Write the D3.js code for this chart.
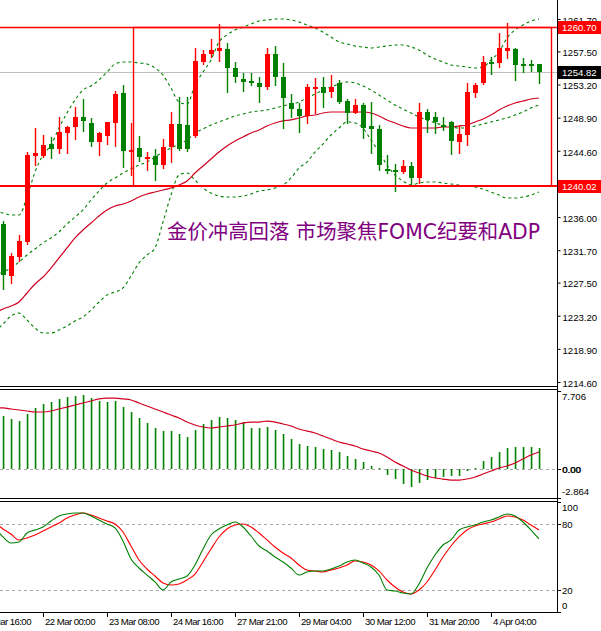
<!DOCTYPE html>
<html>
<head>
<meta charset="utf-8">
<script src="https://cdn.jsdelivr.net/npm/d3@7"></script>
<style>
  body { margin: 0; background: #fff; }
  svg { display: block; }
  text { font-family: "Liberation Sans", Arial, sans-serif; }
</style>
</head>
<body>
<div id="chart"></div>
<script>
// velas H4 del oro, barra 0 .. 67
const opens = [1235.10,1228.35,1230.82,1232.77,1243.92,1243.92,1245.48,1244.83,1246.91,1247.69,
  1248.99,1248.21,1245.74,1246.52,1248.21,1252.10,1244.57,1244.96,1243.53,1243.92,
  1242.76,1245.09,1248.08,1247.95,1246.52,1256.12,1257.16,1257.55,1257.81,1255.34,
  1253.91,1253.66,1253.40,1252.88,1257.16,1254.17,1250.80,1250.02,1249.12,1252.75,
  1252.88,1252.23,1253.40,1251.06,1249.50,1250.54,1247.82,1247.43,1242.24,1242.11,
  1241.85,1242.63,1241.07,1249.63,1248.99,1247.95,1248.34,1245.74,1246.65,1252.10,
  1253.40,1256.12,1255.99,1257.55,1257.81,1255.86,1255.86,1255.86];
const highs = [1235.49,1231.34,1233.67,1244.44,1247.56,1246.65,1246.39,1248.99,1247.82,1250.28,
  1251.32,1248.86,1247.04,1248.34,1252.36,1253.14,1248.21,1246.52,1244.44,1244.83,
  1246.13,1249.63,1251.58,1251.58,1257.94,1257.68,1259.11,1261.05,1258.59,1256.12,
  1254.69,1254.69,1254.17,1257.94,1258.20,1256.00,1251.97,1250.80,1253.27,1254.04,
  1254.17,1254.43,1253.78,1251.32,1251.32,1250.80,1250.93,1247.95,1244.05,1242.89,
  1243.40,1243.14,1250.80,1250.02,1249.63,1248.99,1248.47,1247.95,1253.40,1253.40,
  1256.90,1256.77,1259.88,1261.18,1257.94,1256.64,1256.38,1255.86];
const lows = [1226.67,1227.45,1230.30,1232.51,1242.76,1243.79,1243.66,1244.31,1244.31,1246.13,
  1247.17,1245.22,1244.05,1245.48,1245.22,1242.50,1241.46,1243.27,1242.11,1240.81,
  1242.37,1243.14,1244.70,1244.57,1246.39,1255.86,1256.77,1256.25,1252.23,1253.53,
  1252.36,1253.14,1250.93,1252.62,1253.14,1247.56,1248.99,1247.04,1248.21,1249.50,
  1250.28,1251.58,1250.80,1248.21,1249.50,1246.26,1244.31,1242.11,1241.72,1239.38,
  1241.72,1240.03,1240.42,1247.04,1246.91,1247.30,1244.18,1244.31,1245.35,1251.58,
  1253.27,1254.56,1255.47,1256.64,1253.78,1254.82,1254.95,1253.40];
const closes = [1228.48,1230.95,1232.90,1244.05,1244.31,1245.35,1244.83,1247.04,1247.69,1248.99,
  1248.47,1245.74,1246.91,1248.34,1251.97,1244.57,1244.70,1243.79,1243.79,1242.76,
  1245.09,1248.08,1244.83,1244.83,1256.25,1257.16,1257.68,1257.94,1255.34,1254.17,
  1253.53,1253.40,1252.88,1257.16,1254.17,1251.45,1250.02,1249.12,1252.88,1252.88,
  1252.10,1252.88,1250.93,1249.50,1250.54,1247.56,1247.43,1242.76,1242.11,1241.98,
  1242.63,1241.07,1249.63,1248.60,1248.34,1247.69,1245.87,1246.78,1252.23,1253.14,
  1256.12,1255.99,1257.94,1257.94,1255.73,1255.60,1255.60,1254.82];

// indicadores: empiezan una barra antes de la primera vela (barra -1 .. 67)
const lineStart = -1;
const bandUpper = [1236.92,1236.53,1236.27,1236.27,1238.60,1241.85,1244.05,1245.35,1247.56,1249.50,
  1251.19,1252.49,1253.01,1253.79,1254.82,1255.86,1256.12,1256.12,1255.99,1255.86,
  1255.34,1254.43,1252.75,1250.93,1250.67,1253.14,1254.82,1256.38,1258.72,1259.63,
  1260.27,1260.66,1261.05,1261.44,1261.57,1261.70,1261.70,1261.57,1261.31,1260.92,
  1260.53,1260.01,1259.37,1258.72,1258.46,1258.20,1258.07,1257.94,1258.07,1258.20,
  1258.33,1258.33,1258.07,1257.68,1257.03,1256.51,1256.12,1255.73,1255.60,1255.47,
  1255.34,1255.47,1256.38,1257.42,1259.24,1260.27,1260.92,1261.44,1261.70];
const bandInner = [1228.35,1228.87,1229.39,1230.17,1231.08,1231.86,1232.64,1233.29,1234.06,1235.10,
  1236.01,1236.92,1238.22,1239.38,1240.42,1241.07,1241.72,1242.24,1242.76,1243.14,
  1243.79,1244.44,1244.96,1245.48,1246.00,1246.91,1247.43,1247.95,1248.34,1248.73,
  1249.12,1249.37,1249.63,1249.76,1249.89,1250.15,1250.41,1250.67,1250.93,1251.45,
  1251.97,1252.49,1252.88,1253.27,1253.53,1253.40,1253.01,1252.49,1251.84,1251.19,
  1250.54,1250.02,1249.50,1248.99,1248.60,1248.21,1247.95,1247.69,1247.56,1247.56,
  1247.82,1248.08,1248.34,1248.60,1248.86,1249.24,1249.63,1250.15,1250.54];
const bandLower = [1221.09,1222.12,1223.16,1223.55,1222.65,1221.61,1220.96,1220.96,1221.35,1221.87,
  1222.52,1223.03,1223.94,1224.98,1225.89,1226.28,1226.80,1228.35,1230.04,1231.08,
  1231.99,1235.36,1238.86,1241.46,1241.72,1240.81,1239.77,1239.12,1238.73,1238.60,
  1238.60,1238.73,1239.00,1239.38,1239.51,1239.77,1240.16,1241.07,1242.37,1243.14,
  1244.44,1245.48,1246.65,1247.56,1248.34,1248.21,1247.56,1246.00,1244.44,1242.76,
  1241.46,1240.68,1240.16,1240.42,1240.55,1240.55,1240.42,1240.29,1240.16,1240.03,
  1239.90,1239.64,1239.25,1238.86,1238.47,1238.47,1238.60,1238.86,1239.25];
const movingAvg = [1223.55,1224.07,1224.46,1224.98,1226.15,1227.32,1228.22,1229.39,1230.69,1231.99,
  1233.29,1234.32,1235.23,1236.14,1236.92,1237.44,1237.70,1238.09,1238.60,1238.99,
  1239.25,1239.51,1239.77,1240.16,1240.68,1241.72,1242.63,1243.53,1244.44,1245.22,
  1245.87,1246.39,1246.91,1247.30,1247.82,1248.21,1248.47,1248.60,1248.86,1249.12,
  1249.24,1249.50,1249.63,1249.63,1249.63,1249.63,1249.63,1249.50,1249.12,1248.60,
  1248.21,1247.82,1247.56,1247.56,1247.56,1247.56,1247.69,1247.69,1247.82,1247.95,
  1248.34,1248.73,1249.24,1249.89,1250.41,1250.80,1251.06,1251.32,1251.45];

// MACD: histograma (barra 0 .. 67) y senal (barra -1 .. 67)
const macdHist = [5.24,4.94,4.74,5.43,6.03,6.42,6.62,6.92,7.11,7.21,
  7.31,7.01,6.72,6.62,6.72,6.12,5.63,5.04,4.54,4.05,
  3.75,3.75,3.46,3.16,3.85,4.45,4.84,5.14,5.04,4.84,
  4.64,4.05,4.05,4.15,3.85,3.46,2.96,2.47,2.27,2.17,
  1.98,1.88,1.68,1.28,0.99,0.69,0.30,0.10,-0.59,-0.99,
  -1.48,-1.78,-1.38,-1.09,-0.89,-0.79,-0.69,-0.69,-0.20,0.10,
  0.79,1.19,1.68,2.07,2.17,2.17,2.17,2.07];
const macdSignal = [6.03,6.03,5.93,5.83,5.73,5.63,5.63,5.73,5.93,6.12,
  6.32,6.52,6.72,6.92,7.01,7.01,6.92,6.82,6.52,6.22,
  5.93,5.63,5.33,5.04,4.64,4.35,4.15,4.05,4.15,4.25,
  4.35,4.54,4.64,4.64,4.74,4.64,4.45,4.25,3.95,3.75,
  3.56,3.26,2.96,2.67,2.47,2.27,1.98,1.78,1.58,1.19,
  0.69,0.30,-0.10,-0.40,-0.69,-0.89,-0.99,-1.09,-1.09,-0.99,
  -0.79,-0.49,-0.20,0.10,0.30,0.59,0.99,1.38,1.68];

// Estocastico %K y %D (barra -1 .. 67)
const stochK = [77.3,68.2,62.7,63.6,71.8,74.5,77.3,82.7,87.3,89.1,
  90.0,90.0,87.3,83.6,80.0,76.4,64.5,48.2,40.0,33.6,
  27.3,20.0,27.3,30.0,32.7,42.7,57.3,70.0,75.5,79.1,
  81.8,77.3,69.1,60.0,55.5,50.0,45.5,40.0,33.6,36.4,
  37.3,37.3,39.1,41.8,45.5,47.3,44.5,40.9,33.6,20.0,
  19.1,17.3,16.4,25.5,40.0,51.8,60.9,65.5,74.5,77.3,
  79.1,81.8,83.6,86.4,89.1,87.3,81.8,74.5,66.4];
const stochD = [80.9,75.5,70.9,65.5,67.3,70.0,73.6,77.3,80.9,85.5,
  88.2,90.0,88.2,85.5,82.7,80.0,72.7,60.0,47.3,39.1,
  32.7,26.4,24.5,25.5,29.1,34.5,45.5,57.3,68.2,75.5,
  79.1,80.0,77.3,71.8,65.5,59.1,53.6,49.1,42.7,38.2,
  37.3,36.4,38.2,40.0,42.7,46.4,45.5,42.7,37.3,29.1,
  22.7,18.2,16.4,20.0,27.3,38.2,50.0,60.0,68.2,74.5,
  78.2,80.0,81.8,84.5,87.3,86.4,83.6,79.1,74.5];

// ejes
const priceTicks = [1261.70,1257.50,1253.20,1248.90,1244.60,1240.30,1236.00,1231.70,1227.50,1223.20,1218.90,1214.60];
const macdTicks = [7.706, 0.00, -2.864];
const stochTicks = [100, 80, 20, 0];
const stochLevels = [80, 20];
const timeBars = [-3, 5, 13, 21, 29, 37, 45, 53, 61];
const timeLabels = ["20 Mar 16:00","22 Mar 00:00","23 Mar 08:00","24 Mar 16:00","27 Mar 21:00",
  "29 Mar 04:00","30 Mar 12:00","31 Mar 20:00","4 Apr 04:00"];

// objetos dibujados
const levelHigh = 1260.70;
const levelLow = 1240.02;
const lastPrice = 1254.82;
const boxStartBar = 16.25, boxEndBar = 68.5;
const note = { bar: 20.5, price: 1233.15, text: "金价冲高回落 市场聚焦FOMC纪要和ADP" };

const W = 601, H = 631;
const axisX = 557;
const mainP = { top: 0, bottom: 386 };
const macdP = { top: 389, bottom: 498 };
const stochP = { top: 501, bottom: 612 };

const svg = d3.select("#chart").append("svg").attr("width", W).attr("height", H);

const x = d3.scaleLinear().domain([0, 67]).range([3, 539]);
const yMain = d3.scaleLinear().domain([1214.6, 1261.7]).range([382, 19]);
const yMacd = d3.scaleLinear().domain([-2.864, 7.706]).range([498, 391]);
const yStoch = d3.scaleLinear().domain([0, 100]).range([612, 502]);

const RED = "#ff0000", GREEN = "#008000", MA = "#d00020";

const defs = svg.append("defs");
[["clipMain", mainP], ["clipMacd", macdP], ["clipStoch", stochP]].forEach(([id, p]) => {
  defs.append("clipPath").attr("id", id).append("rect")
    .attr("x", 0).attr("y", p.top).attr("width", axisX).attr("height", p.bottom - p.top);
});

// ---------- panel principal ----------
const gMain = svg.append("g").attr("clip-path", "url(#clipMain)");

gMain.append("line")
  .attr("x1", 0).attr("x2", axisX)
  .attr("y1", Math.round(yMain(lastPrice)) + 0.5).attr("y2", Math.round(yMain(lastPrice)) + 0.5)
  .attr("stroke", "#c0c0c0");

const lineFor = (yScale) => d3.line()
  .x((d, k) => x(k + lineStart))
  .y((d) => yScale(d))
  .curve(d3.curveMonotoneX);

[bandUpper, bandInner, bandLower].forEach((arr) => {
  gMain.append("path").datum(arr)
    .attr("d", lineFor(yMain))
    .attr("fill", "none").attr("stroke", GREEN).attr("stroke-width", 1.1)
    .attr("stroke-dasharray", "3,3");
});
gMain.append("path").datum(movingAvg)
  .attr("d", lineFor(yMain))
  .attr("fill", "none").attr("stroke", MA).attr("stroke-width", 1.2);

// velas
const bars = d3.range(opens.length).map((i) => ({
  i, o: opens[i], h: highs[i], l: lows[i], c: closes[i]
}));
const candle = gMain.selectAll("g.candle").data(bars).enter().append("g").attr("class", "candle");
candle.append("line")
  .attr("x1", (d) => x(d.i) + 0.5).attr("x2", (d) => x(d.i) + 0.5)
  .attr("y1", (d) => Math.round(yMain(d.h))).attr("y2", (d) => Math.round(yMain(d.l)) + 1)
  .attr("stroke", (d) => (d.c >= d.o ? RED : GREEN))
  .attr("stroke-width", 1.4);
candle.append("rect")
  .attr("x", (d) => x(d.i) - 2)
  .attr("y", (d) => Math.round(yMain(Math.max(d.o, d.c))))
  .attr("width", 5)
  .attr("height", (d) => Math.max(1.5, Math.round(yMain(Math.min(d.o, d.c))) - Math.round(yMain(Math.max(d.o, d.c)))))
  .attr("fill", (d) => (d.c >= d.o ? RED : GREEN))
  .attr("shape-rendering", "crispEdges");

// niveles y rectangulo
const yHi = Math.round(yMain(levelHigh)) + 0.5;
const yLo = Math.round(yMain(levelLow));
gMain.append("line").attr("x1", 0).attr("x2", axisX).attr("y1", yHi).attr("y2", yHi)
  .attr("stroke", RED).attr("stroke-width", 1.5);
gMain.append("line").attr("x1", 0).attr("x2", axisX).attr("y1", yLo).attr("y2", yLo)
  .attr("stroke", RED).attr("stroke-width", 2.2);
gMain.append("rect")
  .attr("x", x(boxStartBar) + 0.5).attr("y", yHi)
  .attr("width", x(boxEndBar) - x(boxStartBar)).attr("height", yLo - yHi)
  .attr("fill", "none").attr("stroke", RED).attr("stroke-width", 1.4);

gMain.append("text")
  .attr("x", x(note.bar)).attr("y", yMain(note.price))
  .attr("fill", "#800080")
  .style("font-family", '"DejaVu Sans", "Noto Sans CJK SC", sans-serif')
  .style("font-size", "20.4px")
  .text(note.text);

// ---------- MACD ----------
const gMacd = svg.append("g").attr("clip-path", "url(#clipMacd)");
gMacd.append("line").attr("x1", 0).attr("x2", axisX)
  .attr("y1", Math.round(yMacd(0)) + 0.5).attr("y2", Math.round(yMacd(0)) + 0.5)
  .attr("stroke", "#a8a8a8").attr("stroke-dasharray", "3,3");
gMacd.selectAll("rect.hist").data(macdHist).enter().append("rect")
  .attr("class", "hist")
  .attr("x", (d, i) => x(i) - 0.25)
  .attr("y", (d) => Math.round(yMacd(Math.max(0, d))))
  .attr("width", 1.6)
  .attr("height", (d) => Math.max(0, Math.abs(Math.round(yMacd(d)) - Math.round(yMacd(0)))))
  .attr("fill", GREEN);
gMacd.append("path").datum(macdSignal)
  .attr("d", lineFor(yMacd))
  .attr("fill", "none").attr("stroke", MA).attr("stroke-width", 1.2);

// ---------- Estocastico ----------
const gStoch = svg.append("g").attr("clip-path", "url(#clipStoch)");
stochLevels.forEach((lv) => {
  gStoch.append("line").attr("x1", 0).attr("x2", axisX)
    .attr("y1", Math.round(yStoch(lv)) + 0.5).attr("y2", Math.round(yStoch(lv)) + 0.5)
    .attr("stroke", "#a8a8a8").attr("stroke-dasharray", "3,3");
});
gStoch.append("path").datum(stochD)
  .attr("d", lineFor(yStoch))
  .attr("fill", "none").attr("stroke", RED).attr("stroke-width", 1.1);
gStoch.append("path").datum(stochK)
  .attr("d", lineFor(yStoch))
  .attr("fill", "none").attr("stroke", GREEN).attr("stroke-width", 1.1);

// ---------- bordes ----------
const frame = svg.append("g").attr("stroke", "#000").attr("shape-rendering", "crispEdges");
[mainP.bottom, macdP.top, macdP.bottom, stochP.top, stochP.bottom].forEach((yy) => {
  frame.append("line").attr("x1", 0).attr("x2", axisX + 0.5).attr("y1", yy + 0.5).attr("y2", yy + 0.5);
});
frame.append("line").attr("x1", axisX + 0.5).attr("x2", axisX + 0.5).attr("y1", 0).attr("y2", stochP.bottom + 0.5);

// ---------- eje de precios ----------
const axisPrice = d3.axisRight(yMain).tickValues(priceTicks).tickSize(3).tickPadding(2)
  .tickFormat(d3.format(".2f"));
const gAxis = svg.append("g").attr("transform", `translate(${axisX + 0.5},0)`).call(axisPrice);
gAxis.select(".domain").remove();
gAxis.selectAll("line").attr("stroke", "#000");
gAxis.selectAll("text").attr("fill", "#000").style("font-size", "9.6px")
  .style("font-family", '"Liberation Sans", Arial, sans-serif').attr("dy", "0.45em");

// etiquetas con fondo
[[levelHigh, RED], [lastPrice, "#000"], [levelLow, RED]].forEach(([v, col]) => {
  const yy = Math.round(yMain(v));
  svg.append("rect").attr("x", axisX + 1).attr("y", yy - 6).attr("width", W - axisX - 1).attr("height", 13)
    .attr("fill", col);
  svg.append("text").attr("x", axisX + 5).attr("y", yy + 4)
    .attr("fill", "#fff").style("font-size", "9.6px").text(v.toFixed(2));
});

// etiquetas de MACD y estocastico
const labelShift = (v, lo, hi) => (v === hi ? 9 : v === lo ? -3 : 3.5);
macdTicks.forEach((v) => {
  const yy = yMacd(v);
  svg.append("line").attr("x1", axisX).attr("x2", axisX + 4).attr("y1", Math.round(yy) + 0.5).attr("y2", Math.round(yy) + 0.5)
    .attr("stroke", "#000");
  const txt = v === 0 ? "0.00" : String(v);
  const reps = v === 0 ? [0, 0.6] : [0];
  reps.forEach((dx) => {
    svg.append("text").attr("x", axisX + 5 + dx).attr("y", yy + labelShift(v, -2.864, 7.706))
      .style("font-size", "9.6px").text(txt);
  });
});
stochTicks.forEach((v) => {
  const yy = yStoch(v);
  svg.append("line").attr("x1", axisX).attr("x2", axisX + 4).attr("y1", Math.round(yy) + 0.5).attr("y2", Math.round(yy) + 0.5)
    .attr("stroke", "#000");
  svg.append("text").attr("x", axisX + 5).attr("y", yy + labelShift(v, 0, 100))
    .style("font-size", "9.6px").text(v);
});

// ---------- eje de tiempo ----------
timeBars.forEach((b, k) => {
  const xx = Math.round(x(b)) + 0.5;
  svg.append("line").attr("x1", xx).attr("x2", xx).attr("y1", stochP.bottom).attr("y2", stochP.bottom + 5)
    .attr("stroke", "#000");
  svg.append("text").attr("x", xx + 1.5).attr("y", 625)
    .style("font-size", "9.6px").style("letter-spacing", "-0.55px")
    .text(timeLabels[k]);
});
</script>
</body>
</html>
